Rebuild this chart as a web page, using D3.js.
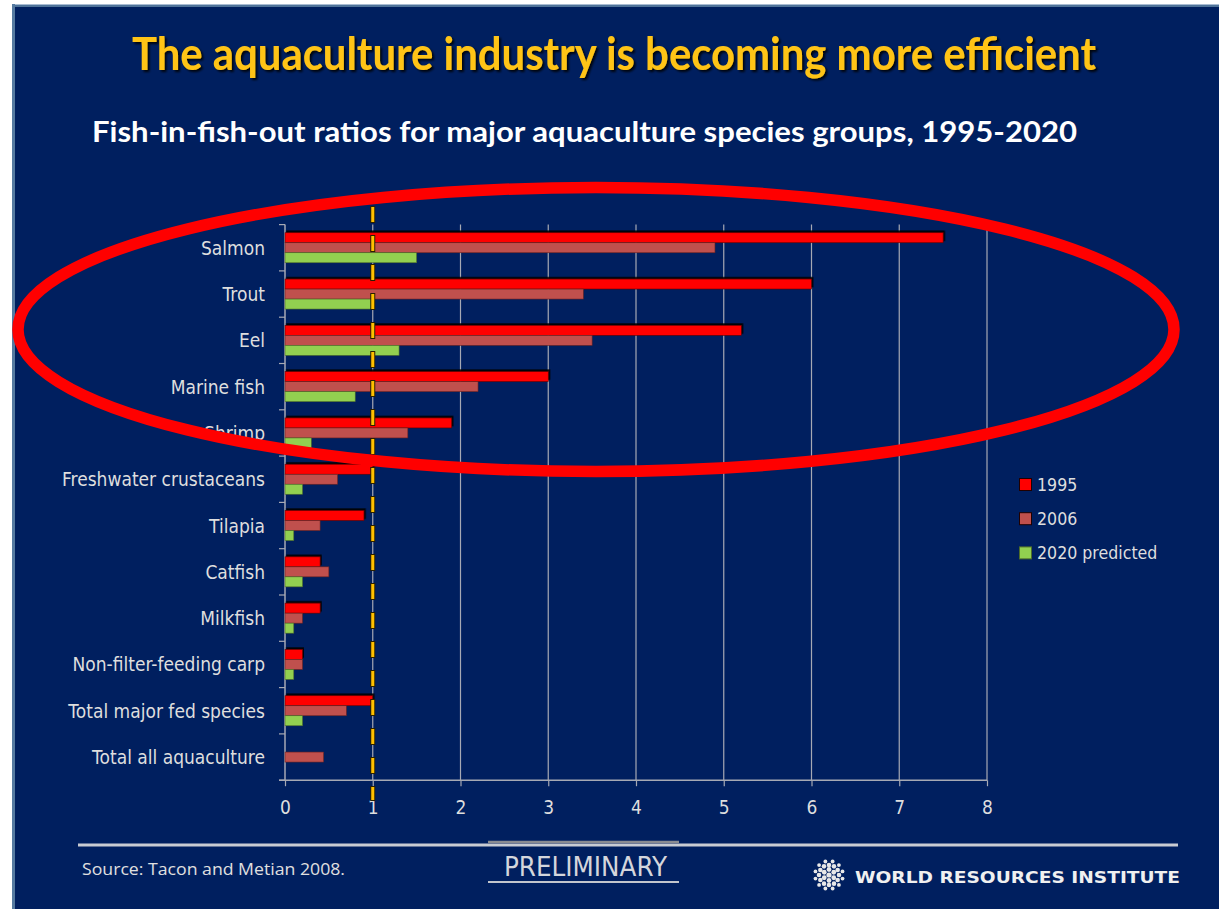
<!DOCTYPE html>
<html>
<head>
<meta charset="utf-8">
<script src="https://cdn.jsdelivr.net/npm/d3@7/dist/d3.min.js"></script>
<style>
  html, body { margin: 0; padding: 0; background: #ffffff; }
  svg { display: block; }
</style>
</head>
<body>
<svg id="chart" width="1219" height="909"></svg>
<script>
// Fish-in-fish-out ratios by species group
const categories = [
  "Salmon", "Trout", "Eel", "Marine fish", "Shrimp", "Freshwater crustaceans",
  "Tilapia", "Catfish", "Milkfish", "Non-filter-feeding carp",
  "Total major fed species", "Total all aquaculture"
];
const values1995 = [7.5, 6.0, 5.2, 3.0, 1.9, 1.0, 0.9, 0.4, 0.4, 0.2, 1.0, null];
const values2006 = [4.9, 3.4, 3.5, 2.2, 1.4, 0.6, 0.4, 0.5, 0.2, 0.2, 0.7, 0.44];
const values2020 = [1.5, 1.0, 1.3, 0.8, 0.3, 0.2, 0.1, 0.2, 0.1, 0.1, 0.2, null];
const seriesNames = ["1995", "2006", "2020 predicted"];
const xTicks = [0, 1, 2, 3, 4, 5, 6, 7, 8];
const breakEven = 1;

const titleText = "The aquaculture industry is becoming more efficient";
const subtitleText = "Fish-in-fish-out ratios for major aquaculture species groups, 1995-2020";
const sourceText = "Source: Tacon and Metian 2008.";
const stampText = "PRELIMINARY";
const orgText = "WORLD RESOURCES INSTITUTE";

const seriesColors = ["#ff0000", "#c0504d", "#92d050"];
const navy = "#001f5f";
const textGrey = "#dedede";
const axisGrey = "#a6a9b4";

const svg = d3.select("#chart");
const defs = svg.append("defs");

const ts = defs.append("filter").attr("id", "textShadow")
  .attr("x", "-5%").attr("y", "-20%").attr("width", "110%").attr("height", "150%");
ts.append("feDropShadow").attr("dx", 2).attr("dy", 2).attr("stdDeviation", 0.8)
  .attr("flood-color", "#000000").attr("flood-opacity", 0.85);

const bs = defs.append("filter").attr("id", "barShadow")
  .attr("x", "-5%").attr("y", "-40%").attr("width", "110%").attr("height", "180%");
bs.append("feDropShadow").attr("dx", 1.5).attr("dy", -1.8).attr("stdDeviation", 0.7)
  .attr("flood-color", "#000000").attr("flood-opacity", 0.95);

// Slide frame
svg.append("rect").attr("x", 12).attr("y", 4).attr("width", 1207).attr("height", 905).attr("fill", navy);
svg.append("line").attr("x1", 12).attr("x2", 1219).attr("y1", 4.5).attr("y2", 4.5)
  .attr("stroke", "#a8bcd2").attr("stroke-width", 1);
svg.append("line").attr("x1", 12).attr("x2", 1219).attr("y1", 6).attr("y2", 6)
  .attr("stroke", "#4f7399").attr("stroke-width", 2);
svg.append("line").attr("x1", 13.5).attr("x2", 13.5).attr("y1", 4).attr("y2", 909)
  .attr("stroke", "#557aa0").attr("stroke-width", 3);

// Headings
svg.append("text")
  .attr("x", 132).attr("y", 70)
  .attr("textLength", 964).attr("lengthAdjust", "spacingAndGlyphs")
  .attr("font-family", "Lato, 'Open Sans', sans-serif")
  .attr("font-weight", "bold").attr("font-size", 46)
  .attr("fill", "#ffc417").attr("filter", "url(#textShadow)")
  .text(titleText);

svg.append("text")
  .attr("x", 92).attr("y", 141.5)
  .attr("textLength", 985).attr("lengthAdjust", "spacingAndGlyphs")
  .attr("font-family", "Lato, 'Open Sans', sans-serif")
  .attr("font-weight", "bold").attr("font-size", 28)
  .attr("fill", "#ffffff")
  .text(subtitleText);

// Scales
const x = d3.scaleLinear().domain([0, 8]).range([285, 987]);
const y = d3.scaleBand().domain(categories).range([224.6, 780.2])
  .paddingInner(0.352).paddingOuter(0.176);
const ySub = d3.scaleBand().domain(seriesNames).range([0, y.bandwidth()]);
const step = y.step();

const plot = svg.append("g");

// Vertical gridlines
plot.append("g").selectAll("line")
  .data(xTicks.filter(d => d > 0))
  .join("line")
  .attr("x1", d => x(d)).attr("x2", d => x(d))
  .attr("y1", 224.6).attr("y2", 780.2)
  .attr("stroke", axisGrey).attr("stroke-width", 1.2);

// X axis
const xAxis = plot.append("g")
  .attr("transform", "translate(0,780.2)")
  .call(d3.axisBottom(x).tickValues(xTicks).tickSize(6).tickFormat(d3.format("d")));
xAxis.select(".domain").attr("stroke", axisGrey).attr("stroke-width", 1.5)
  .attr("d", `M279,0H${x(8)}`);
xAxis.selectAll(".tick line").attr("stroke", axisGrey).attr("stroke-width", 1.2);
xAxis.selectAll(".tick text")
  .attr("fill", textGrey)
  .attr("font-family", "'DejaVu Sans', sans-serif")
  .attr("font-size", 19)
  .attr("x", 0).attr("y", 0).attr("dy", 0)
  .attr("transform", "translate(0,34) scale(0.9,1)");

// Y axis with ticks on band boundaries
const yAxis = plot.append("g");
yAxis.append("line").attr("x1", 285).attr("x2", 285).attr("y1", 224.6).attr("y2", 780.2)
  .attr("stroke", axisGrey).attr("stroke-width", 1.5);
yAxis.selectAll("line.tick")
  .data(d3.range(categories.length + 1))
  .join("line").attr("class", "tick")
  .attr("x1", 279).attr("x2", 285)
  .attr("y1", i => 224.6 + i * step).attr("y2", i => 224.6 + i * step)
  .attr("stroke", axisGrey).attr("stroke-width", 1.2);

// Category labels
plot.append("g").selectAll("text")
  .data(categories)
  .join("text")
  .attr("transform", d => `translate(265,${y(d) + y.bandwidth() / 2 + 7}) scale(0.9,1)`)
  .attr("text-anchor", "end")
  .attr("font-family", "'DejaVu Sans', sans-serif")
  .attr("font-size", 19)
  .attr("fill", textGrey)
  .text(d => d);

// Bars
const seriesValues = [values1995, values2006, values2020];
const barRows = [];
categories.forEach((c, i) => {
  seriesValues.forEach((vals, s) => {
    if (vals[i] != null) barRows.push({ cat: c, series: s, value: vals[i] });
  });
});

const bars = plot.append("g");
bars.selectAll("rect")
  .data(barRows)
  .join("rect")
  .attr("x", x(0))
  .attr("y", d => y(d.cat) + ySub(seriesNames[d.series]))
  .attr("width", d => x(d.value) - x(0))
  .attr("height", ySub.bandwidth())
  .attr("fill", d => seriesColors[d.series])
  .attr("stroke", d => d.series === 0 ? "#5a0000" : d.series === 1 ? "#6a2220" : "#4f6d2a")
  .attr("stroke-width", d => d.series === 0 ? 0.6 : 0.6)
  .attr("filter", d => d.series === 0 ? "url(#barShadow)" : null);

// Break-even line at ratio 1
const be = plot.append("g");
be.append("line")
  .attr("x1", x(breakEven)).attr("x2", x(breakEven))
  .attr("y1", 206).attr("y2", 801)
  .attr("stroke", "#2a2000").attr("stroke-width", 5)
  .attr("stroke-dasharray", "17,12");
be.append("line")
  .attr("x1", x(breakEven)).attr("x2", x(breakEven))
  .attr("y1", 207).attr("y2", 800)
  .attr("stroke", "#ffc000").attr("stroke-width", 3)
  .attr("stroke-dasharray", "15,14");

// Highlight ring around the carnivorous species
svg.append("ellipse")
  .attr("cx", 596).attr("cy", 329.5).attr("rx", 578).attr("ry", 142)
  .attr("fill", "none").attr("stroke", "#ff0000").attr("stroke-width", 11.5);

// Legend
const legend = svg.append("g");
seriesNames.forEach((name, i) => {
  const cy = 484.5 + i * 34.2;
  legend.append("rect")
    .attr("x", 1019.5).attr("y", cy - 6).attr("width", 12).attr("height", 12)
    .attr("fill", seriesColors[i])
    .attr("stroke", i < 2 ? "#200000" : "#4f6d2a").attr("stroke-width", 1);
  legend.append("text")
    .attr("transform", `translate(1037,${cy + 6.5}) scale(0.88,1)`)
    .attr("font-family", "'DejaVu Sans', sans-serif")
    .attr("font-size", 18)
    .attr("fill", textGrey)
    .text(name);
});

// Footer
const footer = svg.append("g");
footer.append("line").attr("x1", 78).attr("x2", 1178).attr("y1", 845).attr("y2", 845)
  .attr("stroke", "#c9ccd3").attr("stroke-width", 3);
footer.append("line").attr("x1", 488).attr("x2", 679).attr("y1", 842).attr("y2", 842)
  .attr("stroke", "#8a8c92").attr("stroke-width", 2.5);
footer.append("line").attr("x1", 488).attr("x2", 679).attr("y1", 882).attr("y2", 882)
  .attr("stroke", "#c2c5cc").attr("stroke-width", 2);
footer.append("text")
  .attr("x", 82).attr("y", 875)
  .attr("textLength", 263).attr("lengthAdjust", "spacingAndGlyphs")
  .attr("font-family", "'Open Sans', sans-serif").attr("font-size", 16)
  .attr("fill", "#e0e0e0")
  .text(sourceText);
footer.append("text")
  .attr("x", 504).attr("y", 876)
  .attr("textLength", 163).attr("lengthAdjust", "spacingAndGlyphs")
  .attr("font-family", "'Liberation Sans Narrow', 'DejaVu Sans', sans-serif").attr("font-size", 27)
  .attr("fill", "#d4d6dc")
  .text(stampText);
footer.append("text")
  .attr("x", 855).attr("y", 883)
  .attr("textLength", 325).attr("lengthAdjust", "spacingAndGlyphs")
  .attr("font-family", "'DejaVu Sans', sans-serif").attr("font-weight", "bold").attr("font-size", 15)
  .attr("fill", "#f0f0f0")
  .text(orgText);

// Emblem made of dots
const emblem = footer.append("g").attr("transform", "translate(829,875)");
const rings = [[0, 1, 2.6], [5.5, 6, 2.4], [10, 12, 2.3], [14, 12, 1.9]];
rings.forEach(([r, n, dotR], k) => {
  d3.range(n).forEach(j => {
    const a = (j / n) * 2 * Math.PI + (k % 2 ? Math.PI / n : 0);
    emblem.append("circle")
      .attr("cx", r * Math.cos(a)).attr("cy", r * Math.sin(a))
      .attr("r", dotR).attr("fill", "#e8e8e8");
  });
});
</script>
</body>
</html>
